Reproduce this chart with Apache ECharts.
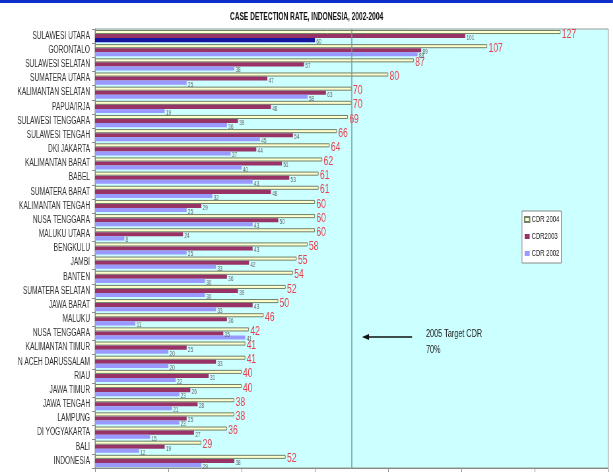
<!DOCTYPE html>
<html>
<head>
<meta charset="utf-8">
<script src="https://cdn.jsdelivr.net/npm/echarts@6/dist/echarts.min.js"></script>
<style>
html,body{margin:0;padding:0;background:#fff;overflow:hidden;width:613px;height:475px;}
#c{height:475px;transform-origin:0 0;}
</style>
</head>
<body>
<div id="c"></div>
<script>
const categories = ['SULAWESI UTARA','GORONTALO','SULAWESI SELATAN','SUMATERA UTARA','KALIMANTAN SELATAN','PAPUA/IRJA','SULAWESI TENGGARA','SULAWESI TENGAH','DKI JAKARTA','KALIMANTAN BARAT','BABEL','SUMATERA BARAT','KALIMANTAN TENGAH','NUSA TENGGARA','MALUKU UTARA','BENGKULU','JAMBI','BANTEN','SUMATERA SELATAN','JAWA BARAT','MALUKU','NUSA TENGGARA','KALIMANTAN TIMUR','N ACEH DARUSSALAM','RIAU','JAWA TIMUR','JAWA TENGAH','LAMPUNG','DI YOGYAKARTA','BALI','INDONESIA'];
const cdr2004 = [127,107,87,80,70,70,69,66,64,62,61,61,60,60,60,58,55,54,52,50,46,42,41,41,40,40,38,38,36,29,52];
const cdr2003 = [101,89,57,47,63,48,39,54,44,51,53,48,29,50,24,43,42,36,39,43,36,35,25,33,31,26,28,25,27,19,38];
const cdr2002 = [60,88,38,25,58,19,36,45,37,40,43,32,25,43,8,25,33,30,30,33,11,41,20,20,22,23,21,23,15,12,29];
const seriesNames = ['CDR 2004','CDR2003','CDR 2002'];
const targetValue = 70;
const xTicks = {min: 0, max: 140, interval: 20};

// The reference uses a strongly condensed typeface: draw at a wider width and squeeze horizontally.
const S = 0.66;
const W = 613 / S;
const px = v => v / S;   // visual x (px) -> chart x
const el = document.getElementById('c');
el.style.width = W + 'px';
el.style.transform = 'scaleX(' + S + ')';

const FONT = "'Liberation Sans', Arial, sans-serif";
const chart = echarts.init(el);

const smallLabel = {show: true, position: 'right', distance: 2, fontSize: 7, color: '#666', fontFamily: FONT, offset: [0, 2]};
const data2002 = cdr2002.map((v, i) => i === 0 ? {value: v, itemStyle: {color: '#1616a0'}} : v);

chart.setOption({
  animation: false,
  backgroundColor: '#fff',
  title: {
    text: 'CASE DETECTION RATE, INDONESIA, 2002-2004',
    left: 'center', top: 7,
    textStyle: {fontSize: 10, fontWeight: 'bold', color: '#111', fontFamily: FONT}
  },
  legend: {
    data: seriesNames,
    orient: 'vertical', left: px(522), top: 211,
    itemWidth: px(5), itemHeight: 5, itemGap: 8,
    icon: 'rect',
    backgroundColor: '#fff', borderColor: '#888', borderWidth: 1,
    padding: [4, px(2), 5, px(2)],
    textStyle: {fontSize: 9, color: '#222', fontFamily: FONT, padding: [0, 0, 0, -2]}
  },
  grid: {
    left: px(95), right: px(5), top: 29, bottom: 7,
    show: true, backgroundColor: '#CCFFFF', borderColor: '#999', borderWidth: 1
  },
  xAxis: {
    type: 'value', min: xTicks.min, max: xTicks.max, interval: xTicks.interval,
    axisLabel: {show: false},
    axisLine: {show: true, lineStyle: {color: '#888'}},
    axisTick: {show: true, length: 4, lineStyle: {color: '#888'}},
    splitLine: {show: false}
  },
  yAxis: {
    type: 'category', data: categories, inverse: true,
    axisLine: {show: true, lineStyle: {color: '#888'}},
    axisTick: {show: true, length: px(3), lineStyle: {color: '#888'}},
    axisLabel: {fontSize: 10, color: '#333', margin: px(5), fontFamily: FONT}
  },
  series: [
    {
      name: seriesNames[0], type: 'bar', data: cdr2004,
      barGap: '0%', barCategoryGap: '14%',
      itemStyle: {color: '#FFFFCC', borderColor: '#6f7f6a', borderWidth: 1},
      label: {show: true, position: 'right', distance: 2, fontSize: 13, color: '#E8404C', fontFamily: FONT, offset: [0, 2]},
      markLine: {
        silent: true, symbol: 'none', label: {show: false},
        lineStyle: {color: '#6f9a9a', width: 1.5, type: 'solid'},
        data: [{xAxis: targetValue}]
      }
    },
    {
      name: seriesNames[1], type: 'bar', data: cdr2003,
      barGap: '0%', barCategoryGap: '14%',
      itemStyle: {color: '#993366'},
      label: smallLabel
    },
    {
      name: seriesNames[2], type: 'bar', data: data2002,
      barGap: '0%', barCategoryGap: '14%',
      itemStyle: {color: '#9999FF'},
      label: smallLabel
    }
  ],
  graphic: [
    {type: 'rect', shape: {x: 0, y: 0, width: W, height: 3}, style: {fill: '#0b2fc8'}},
    {type: 'line', shape: {x1: px(412), y1: 337, x2: px(367), y2: 337}, style: {stroke: '#111', lineWidth: 1.3}},
    {type: 'polygon', shape: {points: [[px(362), 337], [px(369), 334], [px(369), 340]]}, style: {fill: '#111'}},
    {type: 'text', left: px(426), top: 328, style: {text: '2005 Target CDR', fontSize: 11, fill: '#222', fontFamily: FONT}},
    {type: 'text', left: px(426), top: 344, style: {text: '70%', fontSize: 11, fill: '#222', fontFamily: FONT}}
  ]
});
</script>
</body>
</html>
